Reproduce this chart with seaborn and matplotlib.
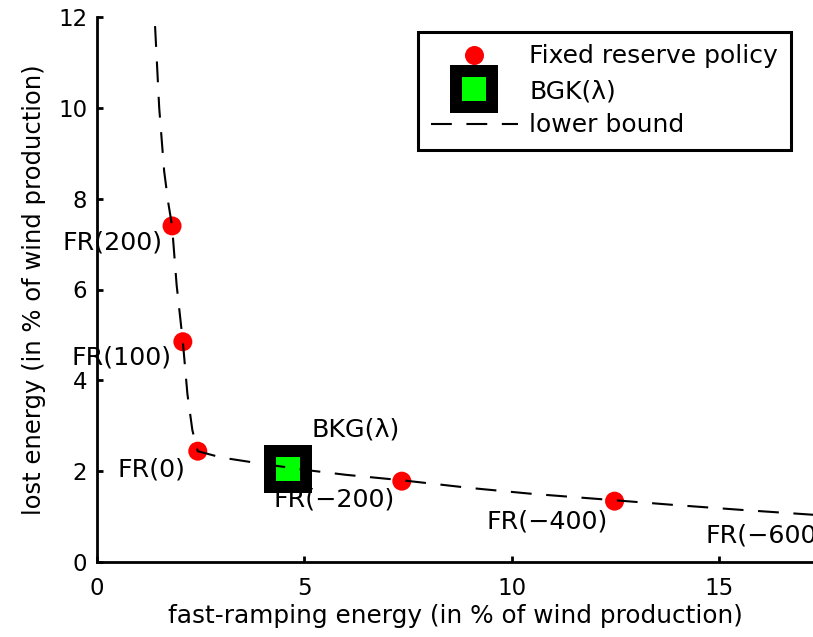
import matplotlib
matplotlib.use("Agg")
import matplotlib.pyplot as plt
from matplotlib.lines import Line2D
import seaborn as sns
import pandas as pd

# Fixed reserve policies FR(k): fast-ramping energy vs. lost energy (% of wind production)
fr_names = ["FR(200)", "FR(100)", "FR(0)", "FR(\u2212200)", "FR(\u2212400)", "FR(\u2212600)"]
fr_x = [1.81, 2.07, 2.43, 7.35, 12.48, 17.75]
fr_y = [7.40, 4.85, 2.44, 1.78, 1.34, 1.03]

# BGK(lambda) policy
bgk_x = [4.60]
bgk_y = [2.05]

# Lower bound curve
lb_x = [1.40, 1.50, 1.62, 1.72, 1.81, 1.92, 2.07, 2.18, 2.30, 2.43,
        3.0, 4.0, 5.0, 6.0, 7.35, 9.0, 10.5, 12.48, 14.0, 15.5, 17.75]
lb_y = [11.80, 10.00, 8.60, 7.90, 7.40, 6.10, 4.85, 3.70, 2.90, 2.44,
        2.30, 2.16, 2.03, 1.92, 1.80, 1.63, 1.50, 1.36, 1.25, 1.15, 1.01]

# label offsets (pixels) relative to each point, text left-aligned
fr_label_off = [(-110, -17), (-111, -16), (-80, -18), (-128, -18), (-128, -20), (-128, -20)]
bgk_label = "BKG(\u03bb)"
bgk_label_off = (24, 39)

sns.set_style("ticks")
plt.rcParams["font.family"] = ["DejaVu Sans"]
plt.rcParams["font.size"] = 17.5
plt.rcParams["text.color"] = "black"
plt.rcParams["axes.labelcolor"] = "black"

W, H = 813, 637
fig = plt.figure(figsize=(W / 100, H / 100), dpi=100)
ax = fig.add_axes([97 / W, 75 / H, 716 / W, 545 / H])

px2pt = 0.72

lb_df = pd.DataFrame({"x": lb_x, "y": lb_y})
sns.lineplot(data=lb_df, x="x", y="y", sort=False, estimator=None,
             color="black", lw=1.5, ax=ax, zorder=4)
lb_line = ax.lines[-1]
lb_line.set_dashes([10, 7])

fr_df = pd.DataFrame({"x": fr_x, "y": fr_y})
sns.scatterplot(data=fr_df, x="x", y="y", color="#ff0000", s=(19 * px2pt) ** 2,
                edgecolor="none", linewidth=0, ax=ax, zorder=3)

bgk_df = pd.DataFrame({"x": bgk_x, "y": bgk_y})
sns.scatterplot(data=bgk_df, x="x", y="y", marker="s", color="#00ff00",
                s=(36 * px2pt) ** 2, edgecolor="black", linewidth=12 * px2pt,
                ax=ax, zorder=3)
ax.collections[-1].set_joinstyle("miter")

label_fs = 18.3
for name, x, y, off in zip(fr_names, fr_x, fr_y, fr_label_off):
    ax.annotate(name, (x, y), xytext=(off[0] * px2pt, off[1] * px2pt),
                textcoords="offset points", ha="left", va="center",
                annotation_clip=False, fontsize=label_fs, zorder=2)
ax.annotate(bgk_label, (bgk_x[0], bgk_y[0]),
            xytext=(bgk_label_off[0] * px2pt, bgk_label_off[1] * px2pt),
            textcoords="offset points", ha="left", va="center",
            fontsize=label_fs, zorder=2)

ax.set_xlim(0, 716 / 41.47)
ax.set_ylim(0, 12)
ax.set_xticks([0, 5, 10, 15])
ax.set_yticks([0, 2, 4, 6, 8, 10, 12])
ax.tick_params(direction="in", length=6 * px2pt, width=2, labelsize=16.5,
               colors="black")
ax.tick_params(axis="x", pad=11)
ax.tick_params(axis="y", pad=7)
sns.despine(ax=ax)
for s in ["left", "bottom"]:
    ax.spines[s].set_linewidth(2)
    ax.spines[s].set_color("black")

ax.set_xlabel("fast-ramping energy (in % of wind production)", fontsize=17.8, labelpad=3)
ax.set_ylabel("lost energy (in % of wind production)", fontsize=17.5, labelpad=9)

handles = [
    Line2D([], [], linestyle="none", marker="o", markersize=19 * px2pt,
           markerfacecolor="#ff0000", markeredgecolor="none"),
    Line2D([], [], linestyle="none", marker="s", markersize=36 * px2pt,
           markerfacecolor="#00ff00", markeredgecolor="black",
           markeredgewidth=12 * px2pt),
    Line2D([], [], color="black", lw=1.5, dashes=[10, 7]),
]
labels = ["Fixed reserve policy", "BGK(\u03bb)", "lower bound"]
leg = ax.legend(handles, labels, loc="upper left",
                bbox_to_anchor=(418 / W, 1 - 32 / H), bbox_transform=fig.transFigure,
                borderaxespad=0, frameon=True, fancybox=False, framealpha=1,
                edgecolor="black", fontsize=18, handlelength=3.5,
                handletextpad=0.45, labelspacing=0.42, borderpad=0.5)
leg.get_frame().set_linewidth(2.2)

fig.savefig("out.png", dpi=100)
